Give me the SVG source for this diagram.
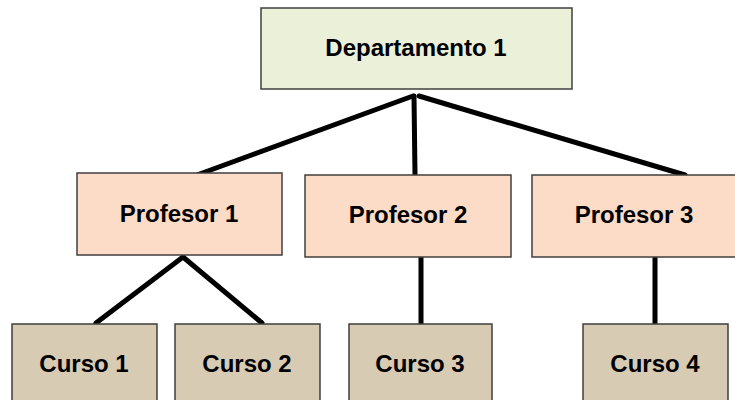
<svg xmlns="http://www.w3.org/2000/svg" width="735" height="400" viewBox="0 0 735 400">
  <style>
    .box { stroke: #3f3f3f; stroke-width: 1.5; }
    .dept { fill: #ebf1d8; }
    .prof { fill: #fddcc7; }
    .curso { fill: #d7cbb3; }
    .lbl { font-family: "Liberation Sans", Arial, sans-serif; font-weight: bold; font-size: 24px; fill: #000; text-anchor: middle; }
    .conn line { stroke: #000; stroke-width: 5; stroke-linecap: round; }
  </style>
  <rect width="735" height="400" fill="#fff"/>

  <!-- connectors -->
  <g id="connectors" class="conn">
    <line x1="413" y1="96" x2="197" y2="175"/>
    <line x1="414" y1="96" x2="415" y2="175"/>
    <line x1="419" y1="96" x2="685" y2="175"/>
    <line x1="183" y1="257" x2="96" y2="323"/>
    <line x1="183" y1="257" x2="262" y2="323"/>
    <line x1="421" y1="258" x2="421" y2="323"/>
    <line x1="655" y1="258" x2="655" y2="323"/>
  </g>

  <g id="departamento1">
    <rect class="box dept" x="261" y="8" width="311" height="81"/>
    <text class="lbl" x="416" y="56">Departamento 1</text>
  </g>

  <g id="profesor1">
    <rect class="box prof" x="77" y="173" width="205" height="82"/>
    <text class="lbl" x="179" y="222">Profesor 1</text>
  </g>
  <g id="profesor2">
    <rect class="box prof" x="305" y="175" width="206" height="82"/>
    <text class="lbl" x="408" y="223">Profesor 2</text>
  </g>
  <g id="profesor3">
    <rect class="box prof" x="532" y="175" width="206" height="82"/>
    <text class="lbl" x="634" y="223">Profesor 3</text>
  </g>

  <g id="curso1">
    <rect class="box curso" x="12" y="324" width="145" height="90"/>
    <text class="lbl" x="84" y="372">Curso 1</text>
  </g>
  <g id="curso2">
    <rect class="box curso" x="175" y="324" width="145" height="90"/>
    <text class="lbl" x="247" y="372">Curso 2</text>
  </g>
  <g id="curso3">
    <rect class="box curso" x="349" y="324" width="143" height="90"/>
    <text class="lbl" x="420" y="372">Curso 3</text>
  </g>
  <g id="curso4">
    <rect class="box curso" x="583" y="324" width="145" height="90"/>
    <text class="lbl" x="655" y="372">Curso 4</text>
  </g>
</svg>
